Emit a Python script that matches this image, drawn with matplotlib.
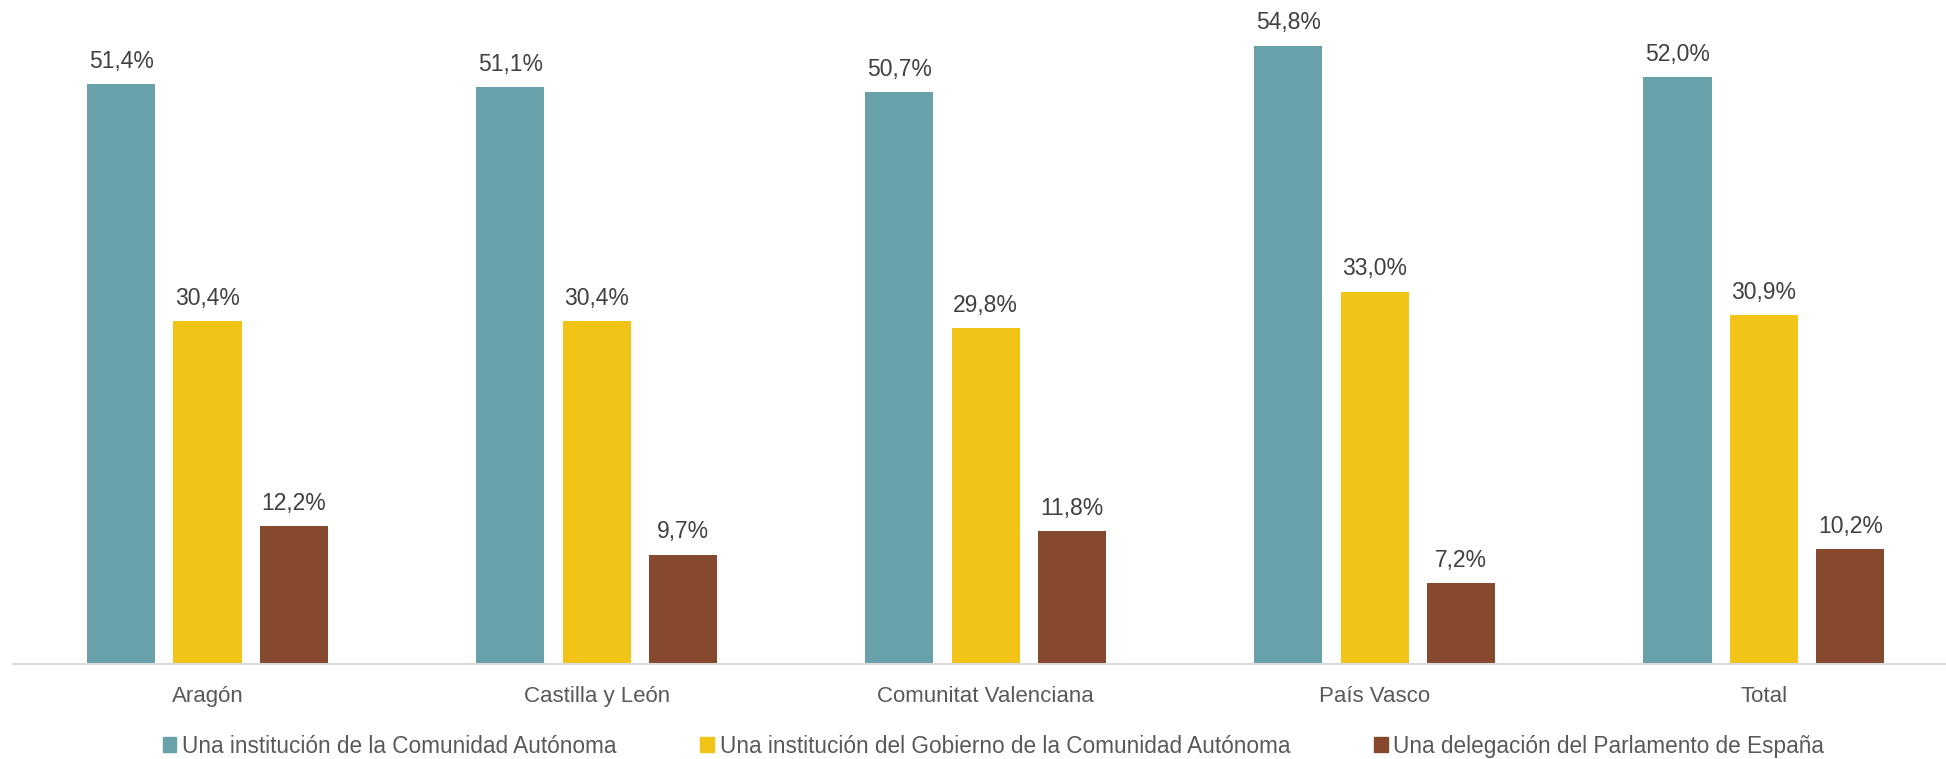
import matplotlib.pyplot as plt
import matplotlib.patches as mpatches
import numpy as np

regiones = ['Aragón', 'Castilla y León', 'Comunitat Valenciana', 'País Vasco', 'Total']
series = ['Una institución de la Comunidad Autónoma',
          'Una institución del Gobierno de la Comunidad Autónoma',
          'Una delegación del Parlamento de España']
comunidad = [51.4, 51.1, 50.7, 54.8, 52.0]
gobierno = [30.4, 30.4, 29.8, 33.0, 30.9]
parlamento = [12.2, 9.7, 11.8, 7.2, 10.2]
colores = ['#68A1A9', '#F2C418', '#86492D']

fuente = ['Liberation Sans', 'DejaVu Sans']

fig = plt.figure(figsize=(19.46, 7.59), dpi=100)
ax = fig.add_axes([13 / 1946, 0.1252, 1 - 13 / 1946, 0.8748])

x = np.arange(len(regiones))
w = 0.175
off = 0.222
for i, (vals, col) in enumerate(zip([comunidad, gobierno, parlamento], colores)):
    bars = ax.bar(x + (i - 1) * off, vals, width=w, color=col, label=series[i])
    for b, v in zip(bars, vals):
        ax.annotate(f'{v:.1f}%'.replace('.', ','), (b.get_x() + b.get_width() / 2, v),
                    xytext=(0, 8), textcoords='offset points', ha='center', va='bottom',
                    fontsize=16.5, color='#404040', family=fuente)

ax.set_xlim(-0.5, 4.468)
ax.set_ylim(0, 58.84)
ax.set_yticks([])
ax.set_xticks(x)
ax.set_xticklabels(regiones, fontsize=16, color='#595959', family=fuente)
ax.tick_params(axis='x', length=0, pad=16)
for s in ['top', 'right', 'left']:
    ax.spines[s].set_visible(False)
ax.spines['bottom'].set_color('#D9D9D9')
ax.spines['bottom'].set_linewidth(1.5)

handles = [mpatches.Patch(color=c, label=l) for c, l in zip(colores, series)]
fig.legend(handles=handles, loc='center', bbox_to_anchor=(0.5105, 0.017), ncol=3, frameon=False,
           handlelength=0.6, handleheight=0.6, handletextpad=0.26, columnspacing=3.7,
           prop={'family': fuente, 'size': 16.3}, labelcolor='#595959')

fig.savefig('out.png', dpi=100)
